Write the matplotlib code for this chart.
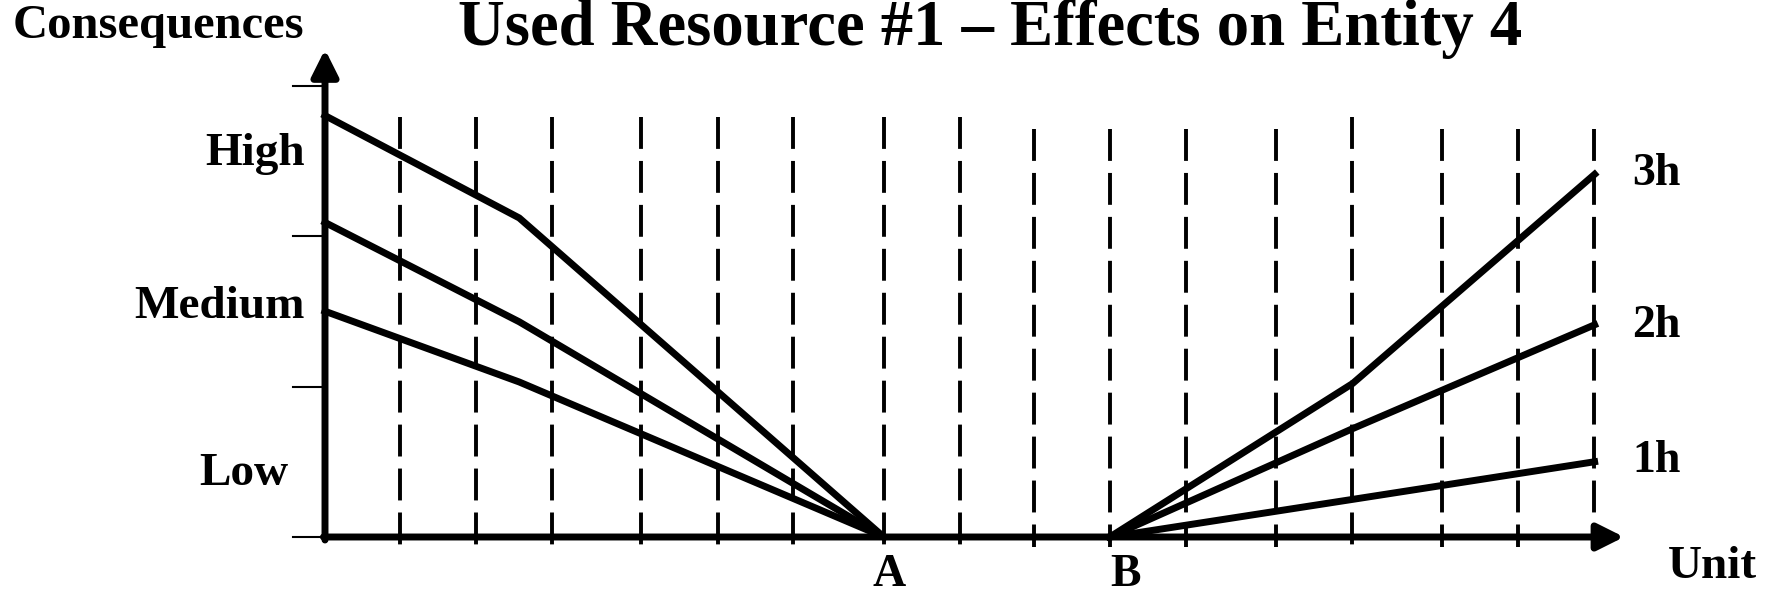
import numpy as np
import matplotlib
matplotlib.use("Agg")
import matplotlib.pyplot as plt

# vertical dashed guide lines (x in units, top end)
grid_x = [0.94, 1.90, 2.85, 3.97, 4.94, 5.88, 7.02, 7.98, 8.91, 9.86,
          10.82, 11.95, 12.90, 14.03, 14.99, 15.94]
grid_top = [2.79, 2.79, 2.79, 2.79, 2.79, 2.79, 2.79, 2.79, 2.71, 2.71,
            2.71, 2.71, 2.79, 2.71, 2.71, 2.71]

# left branch (decreasing to A)
left_x = [0, 2.44, 7.02]
left_3h = [2.80, 2.12, 0]
left_2h = [2.09, 1.43, 0]
left_1h = [1.50, 1.03, 0]

# right branch (increasing from B)
right_x = [9.86, 12.91, 15.95]
right_3h = [0, 1.02, 2.41]
right_2h = [0, 0.72, 1.41]
right_1h = [0, 0.25, 0.50]

level_labels = ["Low", "Medium", "High"]
level_pos = [0.345, 1.455, 2.47]
level_right = [-0.465, -0.25, -0.25]
series_labels = ["1h", "2h", "3h"]
series_pos = [0.43, 1.33, 2.34]
point_labels = ["A", "B"]
point_pos = [7.09, 10.06]

plt.rcParams['font.family'] = ['Liberation Serif', 'DejaVu Serif']
plt.rcParams['font.weight'] = 'bold'

fig = plt.figure(figsize=(17.75, 5.93), dpi=100)
ax = fig.add_axes([0, 0, 1, 1])
ax.set_xlim(-325 / 79.6, (1775 - 325) / 79.6)
ax.set_ylim(-56 / 150.5, (593 - 56) / 150.5)
ax.axis('off')

# dashed grid
for gx, gt in zip(grid_x, grid_top):
    ax.plot([gx, gx], [gt, -0.066], color='black', lw=2.8,
            linestyle=(0, (8.2, 3.1)), zorder=1)

# y ticks
for t in [0, 1, 2, 3]:
    ax.plot([-0.40, 0], [t, t], color='black', lw=1.5, zorder=2)

# curves
for ys in (left_3h, left_2h, left_1h):
    ax.plot(left_x, ys, color='black', lw=5, zorder=3)
for ys in (right_3h, right_2h, right_1h):
    ax.plot(right_x, ys, color='black', lw=5, zorder=3)

# axes with arrows
arrow = dict(arrowstyle='-|>', lw=5, color='black', mutation_scale=40,
             shrinkA=0, shrinkB=0)
ax.annotate('', xy=(0, 3.24), xytext=(0, -0.02), arrowprops=arrow, zorder=4)
ax.annotate('', xy=(16.32, 0), xytext=(-0.02, 0), arrowprops=arrow, zorder=4)

# texts
ax.text(-3.92, 3.316, "Consequences", fontsize=35, fontweight='bold',
        ha='left', va='baseline')
ax.text(8.35, 3.27, "Used Resource #1 \u2013 Effects on Entity 4", fontsize=46.5,
        fontweight='bold', ha='center', va='baseline')
for lab, y, xr in zip(level_labels, level_pos, level_right):
    ax.text(xr, y, lab, fontsize=34, fontweight='bold', ha='right', va='baseline')
for lab, y in zip(series_labels, series_pos):
    ax.text(16.42, y, lab, fontsize=33, fontweight='bold', ha='left', va='baseline')
for lab, x in zip(point_labels, point_pos):
    ax.text(x, -0.325, lab, fontsize=33, fontweight='bold', ha='center', va='baseline')
ax.text(16.87, -0.27, "Unit", fontsize=34, fontweight='bold', ha='left', va='baseline')

fig.savefig("out.png", dpi=100)
